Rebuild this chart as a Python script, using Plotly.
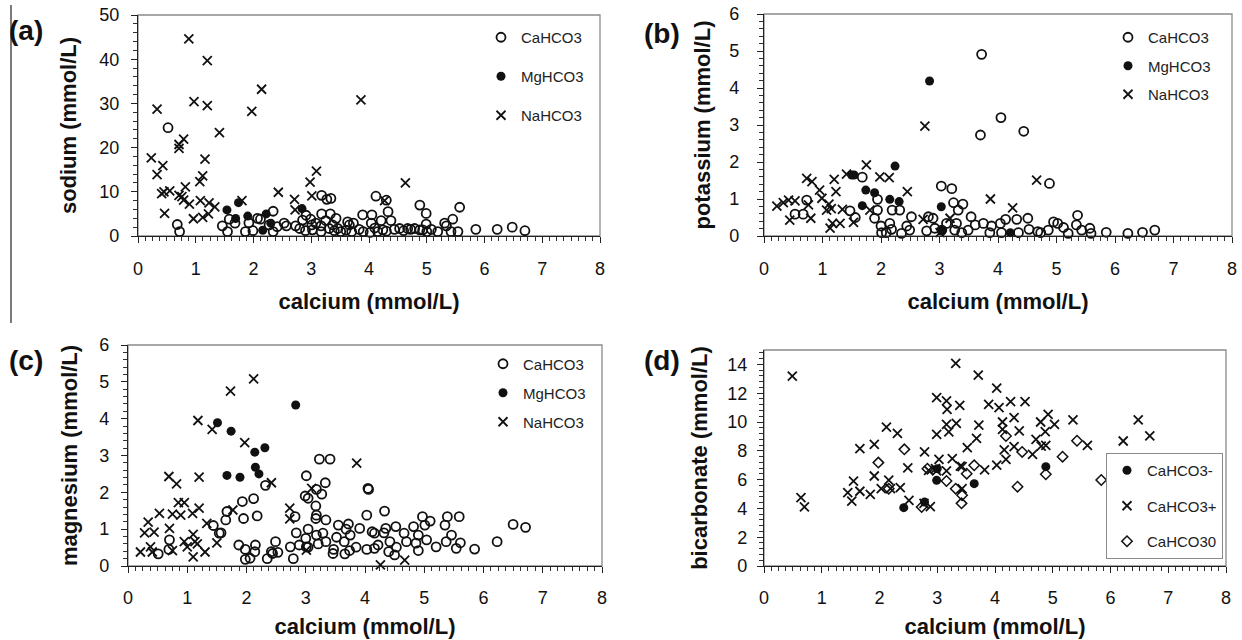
import plotly.graph_objects as go

W, H = 1242, 640

# ---------------- panel (a): sodium vs calcium ----------------
a_ca_x = [0.52,0.68,0.72,1.46,1.55,1.58,1.68,1.86,1.92,1.99,
          2.07,2.12,2.34,2.34,2.27,2.41,2.53,2.57,2.73,2.80,
          2.85,2.91,2.99,3.01,3.02,3.08,3.17,3.17,3.18,3.27,
          3.34,3.18,3.33,3.25,3.31,3.37,3.43,3.46,3.51,3.63,
          3.66,3.73,3.83,3.89,4.05,4.04,4.02,4.12,4.30,4.21,
          4.15,4.24,4.33,4.38,4.44,4.53,4.67,4.79,4.88,4.88,
          4.99,4.99,5.08,5.19,5.31,5.34,5.45,5.42,5.57,5.54,
          5.85,6.22,6.48,6.70,4.93,
          3.40,3.60,3.70,3.90,4.10,4.30,4.60,4.72,5.00,2.90]
a_ca_y = [24.5,2.6,1.0,2.3,1.0,3.8,2.9,1.0,3.0,1.2,
          4.0,3.8,5.6,1.0,2.5,2.1,2.9,2.3,2.3,1.7,
          3.6,4.7,3.8,2.5,1.4,2.9,2.3,1.0,9.2,8.3,
          8.5,5.0,5.0,3.5,1.7,2.5,4.0,1.7,1.0,3.2,
          2.5,2.9,1.5,4.8,4.8,2.9,0.8,9.0,8.1,3.5,
          1.0,1.4,5.5,3.5,1.5,1.7,1.7,1.7,7.0,1.4,
          5.1,2.7,1.5,1.0,2.9,2.3,3.8,1.0,6.5,1.0,
          1.5,1.5,2.0,1.2,1.4,
          1.2,1.3,1.0,1.0,1.8,1.1,1.2,1.5,1.0,1.2]
a_mg_x = [1.54,1.69,1.74,1.90,2.22,2.16,2.84,2.30]
a_mg_y = [5.9,3.95,7.55,4.5,5.0,1.3,6.2,2.9]
a_na_x = [0.88,1.20,2.14,0.33,0.97,1.20,1.97,3.86,1.41,0.79,
          0.71,0.71,0.23,1.16,0.43,0.33,1.12,1.07,3.09,2.98,
          4.63,0.41,0.45,0.55,0.82,0.71,0.76,0.79,0.89,1.08,
          1.23,1.33,2.43,2.71,3.01,2.72,0.46,0.96,1.12,1.22,
          1.80,4.27]
a_na_y = [44.6,39.7,33.2,28.7,30.4,29.5,28.2,30.8,23.4,21.9,
          20.7,19.8,17.7,17.4,15.9,13.9,13.6,12.3,14.7,12.2,
          12.0,9.6,10.0,10.2,11.1,9.2,8.9,8.1,7.2,8.0,
          7.5,6.6,9.9,8.3,9.1,5.9,5.1,3.9,4.2,5.0,
          8.0,8.0]

# ---------------- panel (b): potassium vs calcium ----------------
b_ca_x = [3.72,3.70,4.05,4.44,4.88,3.03,3.21,1.68,0.73,0.53,
          0.67,1.47,1.56,1.94,1.94,1.89,2.00,2.01,2.09,2.15,
          2.19,2.18,2.32,2.35,2.44,2.52,2.49,2.78,2.81,2.89,
          2.92,3.04,3.12,3.24,3.32,3.40,3.29,3.26,3.38,3.49,
          3.54,3.61,3.75,3.89,3.86,4.04,4.13,4.06,4.32,4.35,
          4.51,4.53,4.68,4.73,4.86,4.95,5.02,5.12,5.20,5.36,
          5.34,5.43,5.57,5.59,5.85,6.22,6.47,6.68]
b_ca_y = [4.91,2.73,3.20,2.83,1.42,1.35,1.28,1.59,0.97,0.59,
          0.59,0.68,0.50,0.99,0.70,0.48,0.27,0.09,0.09,0.34,
          0.70,0.18,0.70,0.07,0.27,0.52,0.16,0.14,0.52,0.48,
          0.21,0.16,0.34,0.90,0.70,0.86,0.34,0.16,0.09,0.16,
          0.52,0.30,0.34,0.27,0.09,0.34,0.45,0.09,0.45,0.09,
          0.48,0.18,0.12,0.09,0.16,0.38,0.34,0.23,0.07,0.56,
          0.30,0.16,0.21,0.07,0.10,0.07,0.10,0.16]
b_mg_x = [2.83,2.24,1.54,1.50,1.74,1.89,1.68,2.15,2.31,3.03,4.21,3.04]
b_mg_y = [4.19,1.89,1.65,1.65,1.24,1.17,0.82,0.99,0.93,0.79,0.09,0.16]
b_na_x = [2.75,4.66,3.87,4.25,1.75,1.41,1.98,2.14,2.45,0.73,
          0.82,1.20,1.23,0.95,0.99,0.22,0.33,0.42,0.53,0.76,
          1.11,1.15,1.07,1.34,0.44,0.80,1.13,1.17,1.30,1.53,
          1.81,2.72,3.01,3.18]
b_na_y = [2.97,1.51,1.00,0.76,1.92,1.67,1.60,1.58,1.20,1.56,
          1.47,1.53,1.20,1.24,1.02,0.81,0.90,0.97,0.95,0.84,
          0.86,0.74,0.70,0.72,0.43,0.48,0.21,0.34,0.34,0.37,
          0.70,0.45,0.09,0.48]

# ---------------- panel (c): magnesium vs calcium ----------------
c_ca_x = [3.23,3.41,3.01,3.33,4.05,4.06,2.32,3.18,3.27,2.99,
          3.04,3.17,2.12,1.93,1.67,1.65,1.95,2.18,1.44,1.57,
          1.54,2.82,3.18,3.17,3.34,2.84,3.04,3.00,3.18,3.29,
          3.21,3.34,3.47,3.46,3.52,3.55,3.68,3.72,3.75,3.65,
          3.66,3.74,3.85,3.91,4.03,4.03,4.12,4.16,4.16,4.22,
          4.33,4.32,4.35,4.42,4.40,4.50,4.53,4.52,4.66,4.70,
          4.82,4.86,4.90,4.90,4.97,5.01,5.04,5.10,5.20,5.35,
          5.39,5.37,5.46,5.54,5.59,5.61,5.85,6.23,6.50,6.71,
          0.51,0.69,0.70,1.87,1.98,1.98,2.06,2.15,2.14,2.35,
          2.42,2.44,2.49,2.53,2.74,2.79,2.89,3.01,3.04]
c_ca_y = [2.90,2.90,2.45,2.26,2.11,2.08,2.19,2.08,1.95,1.90,
          1.84,1.63,1.83,1.75,1.48,1.25,1.29,1.36,1.10,0.90,
          0.89,1.34,1.38,1.29,1.25,0.90,1.00,0.75,0.84,0.89,
          0.60,0.66,0.45,0.34,0.78,1.11,1.00,1.14,0.84,0.66,
          0.33,0.42,0.51,1.02,1.38,0.45,0.93,0.89,0.48,0.57,
          1.49,0.90,1.02,0.66,0.39,0.30,0.51,1.07,0.89,0.66,
          1.07,0.62,0.42,0.84,1.34,1.11,0.71,1.22,0.52,1.11,
          1.34,0.66,0.84,0.48,1.34,0.63,0.46,0.66,1.13,1.05,
          0.33,0.45,0.71,0.57,0.45,0.18,0.21,0.57,0.39,0.20,
          0.39,0.34,0.66,0.37,0.52,0.20,0.57,0.52,0.51]
c_mg_x = [2.83,1.51,1.74,2.14,2.31,2.15,2.21,1.67,1.89]
c_mg_y = [4.37,3.89,3.66,3.09,3.21,2.68,2.50,2.46,2.41]
c_na_x = [2.12,1.73,1.18,1.42,1.97,3.86,0.69,0.82,1.20,2.42,
          0.85,0.95,0.75,0.89,0.53,1.09,1.20,0.34,0.28,0.44,
          0.70,1.33,1.77,2.73,2.73,3.10,0.21,0.38,0.41,0.75,
          0.95,1.00,1.10,1.13,1.17,1.10,1.30,1.50,3.01,4.26,
          4.67]
c_na_y = [5.08,4.75,3.95,3.71,3.35,2.79,2.43,2.23,2.41,2.26,
          1.72,1.72,1.41,1.38,1.43,1.43,1.57,1.19,0.90,0.92,
          1.02,1.16,1.52,1.57,1.28,2.11,0.38,0.52,0.38,0.42,
          0.66,0.52,0.86,0.66,0.60,0.25,0.38,0.63,0.43,0.03,
          0.16]

# ---------------- panel (d): bicarbonate vs calcium ----------------
d_minus_x = [2.42,2.78,3.00,2.99,3.64,4.88]
d_minus_y = [4.05,4.44,6.76,5.95,5.72,6.90]
d_plus_x = [0.49,0.64,0.70,3.32,3.71,4.03,2.99,3.16,3.17,3.39,
            3.89,4.07,4.27,4.52,3.16,3.33,3.72,2.99,3.20,3.68,
            3.52,4.13,4.33,4.13,4.42,4.79,4.92,5.03,4.87,5.35,
            4.71,4.80,4.65,4.16,4.33,5.60,6.48,6.22,6.68,2.12,
            2.31,1.66,1.91,1.91,3.03,2.78,2.85,2.99,3.16,2.49,
            1.55,1.45,1.52,1.66,1.84,2.03,2.16,2.19,2.36,2.51,
            2.88,2.77,3.43,3.43,3.26,3.40,3.82,4.03,4.19,4.88,2.97]
d_plus_y = [13.19,4.75,4.10,14.07,13.26,12.36,11.69,11.46,10.88,11.16,
            11.23,11.00,11.41,11.41,9.84,9.91,9.79,9.14,9.31,8.87,
            8.22,10.00,10.30,9.49,9.38,10.00,10.53,9.84,9.33,10.14,
            8.80,8.33,7.75,8.06,8.29,8.38,10.14,8.68,9.03,9.65,
            9.21,8.15,8.45,6.25,7.41,7.92,6.64,6.60,6.60,6.81,
            5.90,5.09,4.51,5.19,4.98,5.37,5.97,5.37,5.44,4.56,
            4.12,4.35,5.37,6.90,7.45,6.94,6.67,7.01,7.41,8.38,6.76]
d_zero_x = [2.43,1.98,2.16,2.73,2.83,3.16,3.32,3.43,3.42,3.51,3.64,4.19,4.47,4.39,4.88,5.17,5.42,5.84]
d_zero_y = [8.10,7.18,5.37,4.10,6.76,5.90,5.37,4.91,4.35,6.41,6.99,9.03,7.92,5.51,6.37,7.59,8.70,5.97]

series_names_abc = ["CaHCO3", "MgHCO3", "NaHCO3"]
series_names_d = ["CaHCO3-", "CaHCO3+", "CaHCO30"]
x_title = "calcium (mmol/L)"
y_titles = ["sodium (mmol/L)", "potassium (mmol/L)", "magnesium (mmol/L)", "bicarbonate (mmol/L)"]
panel_labels = ["(a)", "(b)", "(c)", "(d)"]

FONT = "Arial, 'Liberation Sans', sans-serif"
BLACK = "#111111"


def px_x(p):
    return p / W


def px_y(p):
    return 1 - p / H


sty_open = dict(symbol="circle-open", size=9, color=BLACK, line=dict(width=1.8, color=BLACK))
sty_fill = dict(symbol="circle", size=9, color=BLACK, line=dict(width=0))
sty_x = dict(symbol="x-thin-open", size=9, color=BLACK, line=dict(width=1.8, color=BLACK))
sty_x9 = dict(symbol="x-thin-open", size=9, color=BLACK, line=dict(width=1.8, color=BLACK))
sty_dia = dict(symbol="diamond-open", size=8, color=BLACK, line=dict(width=1.5, color=BLACK))

fig = go.Figure()

panels = [
    ("x", "y", "legend", [(a_ca_x, a_ca_y, sty_open), (a_mg_x, a_mg_y, sty_fill), (a_na_x, a_na_y, sty_x)], series_names_abc),
    ("x2", "y2", "legend2", [(b_ca_x, b_ca_y, sty_open), (b_mg_x, b_mg_y, sty_fill), (b_na_x, b_na_y, sty_x)], series_names_abc),
    ("x3", "y3", "legend3", [(c_ca_x, c_ca_y, sty_open), (c_mg_x, c_mg_y, sty_fill), (c_na_x, c_na_y, sty_x)], series_names_abc),
    ("x4", "y4", "legend4", [(d_minus_x, d_minus_y, sty_fill), (d_plus_x, d_plus_y, sty_x9), (d_zero_x, d_zero_y, sty_dia)], series_names_d),
]
for xa, ya, lg, sers, names in panels:
    for i, ((sx, sy, sty), nm) in enumerate(zip(sers, names)):
        fig.add_trace(go.Scatter(x=sx, y=sy, mode="markers", name=nm, marker=sty,
                                 xaxis=xa, yaxis=ya, legend=lg, legendgroup=f"{lg}_{i}",
                                 showlegend=True, cliponaxis=False))

# domains in pixels
dom = {
    1: dict(x=(138, 600), y=(15, 236)),
    2: dict(x=(764, 1232), y=(14, 236)),
    3: dict(x=(128, 602), y=(345, 566)),
    4: dict(x=(764, 1226), y=(350, 566)),
}
yinfo = {
    1: dict(range=[0, 50], dtick=10, minor=2, standoff=16, lab_sd=8),
    2: dict(range=[0, 6], dtick=1, minor=0.2, standoff=12, lab_sd=14),
    3: dict(range=[0, 6], dtick=1, minor=0.2, standoff=15, lab_sd=8),
    4: dict(range=[0, 15], dtick=2, minor=0.4, standoff=13, lab_sd=6),
}
xinfo = {
    1: dict(lab_sd=10, standoff=15),
    2: dict(lab_sd=10, standoff=15),
    3: dict(lab_sd=9, standoff=11),
    4: dict(lab_sd=9, standoff=11),
}

layout_axes = {}
for k in range(1, 5):
    sx = "" if k == 1 else str(k)
    d = dom[k]
    yi = yinfo[k]
    xi = xinfo[k]
    layout_axes[f"xaxis{sx}"] = dict(
        domain=[px_x(d["x"][0]), px_x(d["x"][1])], anchor=f"y{sx}", automargin=False,
        range=[0, 8], tick0=0, dtick=1, showgrid=False, zeroline=False,
        showline=True, linecolor="#222222", linewidth=1.2,
        ticks="outside", ticklen=6, tickwidth=1, tickcolor="#222222",
        minor=dict(dtick=0.125, tick0=0, ticks="outside", ticklen=4, tickwidth=1, tickcolor="#333333", showgrid=False),
        tickfont=dict(family=FONT, size=18, color=BLACK), ticklabelstandoff=xi["lab_sd"],
        title=dict(text=x_title, font=dict(family=FONT, size=22, color=BLACK, weight="bold"), standoff=xi["standoff"]),
    )
    layout_axes[f"yaxis{sx}"] = dict(
        domain=[px_y(d["y"][1]), px_y(d["y"][0])], anchor=f"x{sx}", automargin=False,
        range=yi["range"], tick0=0, dtick=yi["dtick"], showgrid=False, zeroline=False,
        showline=True, linecolor="#222222", linewidth=1.2,
        ticks="outside", ticklen=6, tickwidth=1, tickcolor="#222222",
        minor=dict(dtick=yi["minor"], tick0=0, ticks="outside", ticklen=4, tickwidth=1, tickcolor="#333333", showgrid=False),
        tickfont=dict(family=FONT, size=18, color=BLACK), ticklabelstandoff=yi["lab_sd"],
        title=dict(text=y_titles[k - 1], font=dict(family=FONT, size=22, color=BLACK, weight="bold"), standoff=yi["standoff"]),
    )

shapes = []
for k in range(1, 5):
    sx = "" if k == 1 else str(k)
    shapes.append(dict(type="rect", xref=f"x{sx} domain", yref=f"y{sx} domain", x0=0, x1=1, y0=0, y1=1,
                       line=dict(color="#8a8a8a", width=1.3), layer="below"))
shapes.append(dict(type="line", xref="paper", yref="paper", x0=px_x(11), x1=px_x(11), y0=px_y(5), y1=px_y(323),
                   line=dict(color="#333333", width=1.3)))

annotations = []
for lab, cx, cy in zip(panel_labels, [26, 662, 26, 662], [30, 34, 360, 360]):
    annotations.append(dict(text=f"<b>{lab}</b>", x=px_x(cx), y=px_y(cy), xref="paper", yref="paper",
                            xanchor="center", yanchor="middle", showarrow=False,
                            font=dict(family=FONT, size=28, color=BLACK)))

leg_common = dict(bgcolor="rgba(255,255,255,0)", borderwidth=0, traceorder="grouped",
                  font=dict(family=FONT, size=15, color="#222222"), xanchor="left", yanchor="top",
                  itemsizing="trace")
fig.update_layout(
    width=W, height=H, margin=dict(l=0, r=0, t=0, b=0, autoexpand=False),
    paper_bgcolor="white", plot_bgcolor="white",
    showlegend=True,
    legend=dict(leg_common, x=px_x(481), y=px_y(21), tracegroupgap=16.5),
    legend2=dict(leg_common, x=px_x(1108), y=px_y(21), tracegroupgap=6),
    legend3=dict(leg_common, x=px_x(483), y=px_y(347.5), tracegroupgap=6.5),
    legend4=dict(leg_common, x=px_x(1223), xanchor="right", y=px_y(453), tracegroupgap=13,
                 bgcolor="white", bordercolor="#8a8a8a", borderwidth=1),
    shapes=shapes, annotations=annotations,
    **layout_axes,
)

fig.write_html("out.html", config={"displayModeBar": False},
               post_script="document.body.style.margin='0';document.body.style.overflow='hidden';")
